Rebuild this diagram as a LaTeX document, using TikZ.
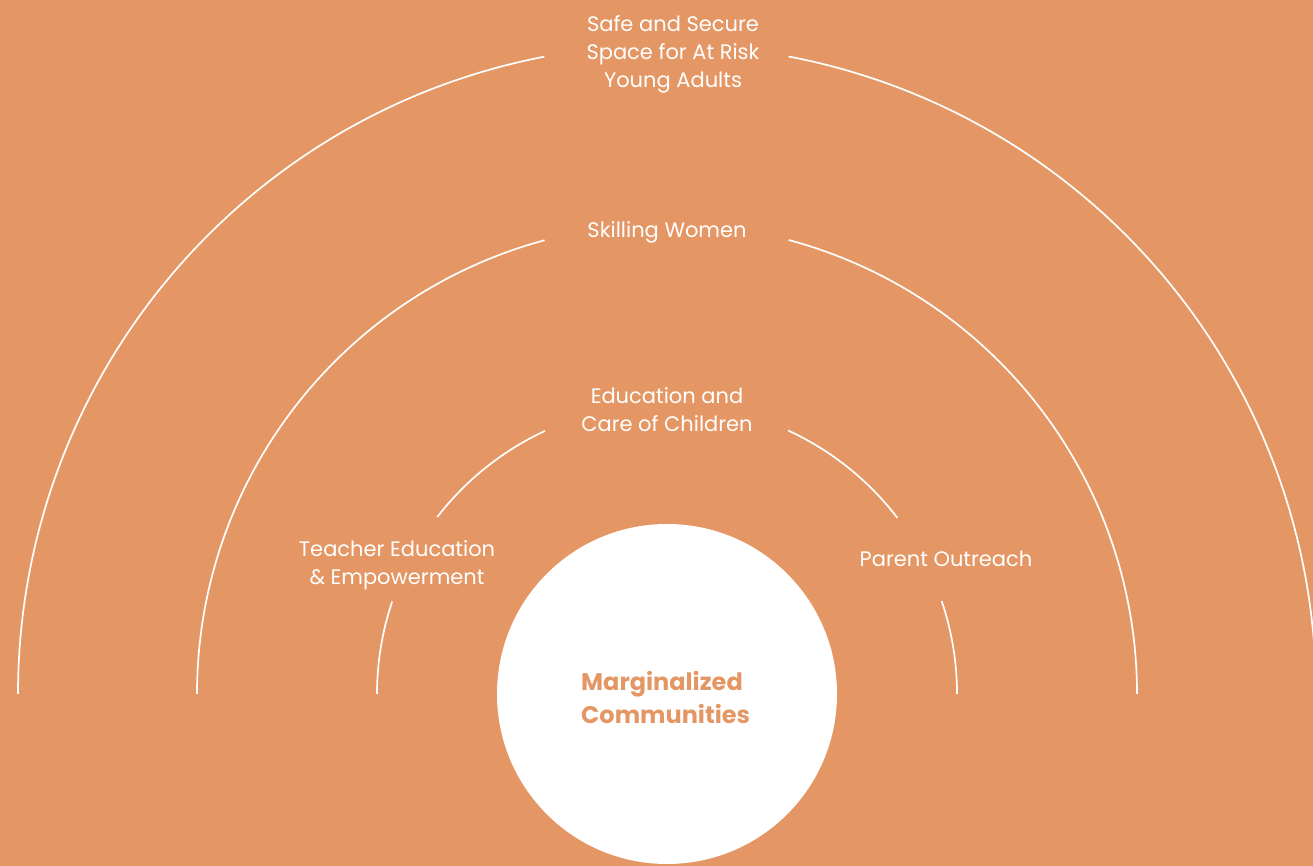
\documentclass[tikz,border=0pt]{standalone}
\usepackage{fontspec}
\setmainfont{Poppins}
\definecolor{bgorange}{HTML}{E49764}
\begin{document}
\begin{tikzpicture}[x=1pt,y=1pt,
  ring/.style={draw=white,line width=1.7pt},
  lbl/.style={text=white,align=center,font=\fontsize{21}{28}\selectfont,inner sep=0pt},
  corelbl/.style={text=bgorange,align=left,font=\bfseries\fontsize{24}{33}\selectfont,inner sep=0pt}]
\fill[bgorange] (0,0) rectangle (1313,866);
\useasboundingbox (0,0) rectangle (1313,866);
\clip (0,0) rectangle (1313,866);
\coordinate (C) at (667,172);
% outer ring
\draw[ring] ([shift={(0:649)}]C) arc[start angle=0,end angle=79.2,radius=649];
\draw[ring] ([shift={(100.9:649)}]C) arc[start angle=100.9,end angle=180,radius=649];
% middle ring
\draw[ring] ([shift={(0:470)}]C) arc[start angle=0,end angle=75,radius=470];
\draw[ring] ([shift={(105.1:470)}]C) arc[start angle=105.1,end angle=180,radius=470];
% inner ring
\draw[ring] ([shift={(0:290)}]C) arc[start angle=0,end angle=18.7,radius=290];
\draw[ring] ([shift={(37.4:290)}]C) arc[start angle=37.4,end angle=65.3,radius=290];
\draw[ring] ([shift={(114.9:290)}]C) arc[start angle=114.9,end angle=142.4,radius=290];
\draw[ring] ([shift={(161.4:290)}]C) arc[start angle=161.4,end angle=180,radius=290];
% core
\node[circle,fill=white,minimum size=340pt,inner sep=0pt] (core) at (C) {};
\node[corelbl,anchor=west] (corelabel) at (581,169) {Marginalized\\Communities};
% labels
\node[lbl] (safe) at (673,812) {Safe and Secure\\Space for At Risk\\Young Adults};
\node[lbl] (skill) at (667,634) {Skilling Women};
\node[lbl] (edu) at (667,456) {Education and\\Care of Children};
\node[lbl] (teach) at (397,301) {Teacher Education\\\& Empowerment};
\node[lbl] (parent) at (946,307) {Parent Outreach};
\end{tikzpicture}
\end{document}
